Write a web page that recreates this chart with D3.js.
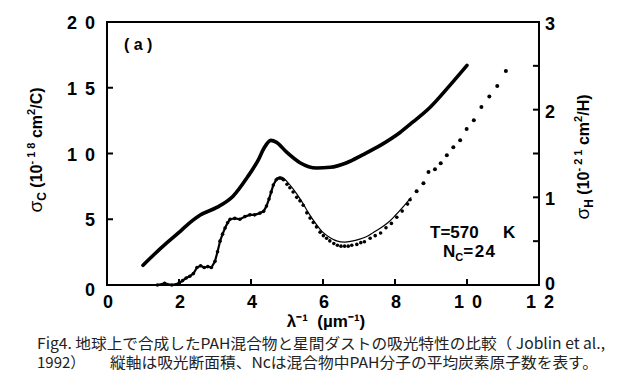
<!DOCTYPE html>
<html>
<head>
<meta charset="UTF-8">
<title>PAH absorption</title>
<script src="https://cdnjs.cloudflare.com/ajax/libs/d3/7.8.5/d3.min.js"></script>
<style>
    html, body { margin: 0; padding: 0; background: #fff; }
    svg { display: block; }
    .tick-label { font-family: "Liberation Sans", Arial, sans-serif; font-weight: bold; font-size: 18px; white-space: pre; }
    .title { font-family: "Liberation Sans", Arial, sans-serif; font-weight: bold; font-size: 16px; white-space: pre; }
    .caption { font-family: "Noto Sans CJK JP", sans-serif; font-size: 15px; fill: #222; }
</style>
</head>
<body>
<div id="chart"></div>
<script>
// sigma_C (left axis, 10^-18 cm^2/C)
var sigmaCX = [1.0, 1.3, 1.66, 2.0, 2.2, 2.58, 3.05, 3.5, 3.9, 4.2, 4.36, 4.55, 4.71, 4.99, 5.36, 5.82, 6.2, 6.66, 7.1, 7.58, 8.14, 8.5, 8.97, 9.53, 10.0];
var sigmaCY = [1.5, 2.3, 3.2, 4.0, 4.5, 5.3, 5.9, 6.75, 8.2, 9.5, 10.4, 11.0, 10.85, 10.1, 9.3, 8.9, 8.95, 9.3, 9.9, 10.6, 11.6, 12.4, 13.5, 15.2, 16.7];

// sigma_H measured (right axis, 10^-21 cm^2/H)
var sigmaHX = [1.4, 1.6, 1.8, 2.0, 2.1, 2.2, 2.3, 2.4, 2.5, 2.6, 2.7, 2.8, 2.9, 3.0, 3.07, 3.14, 3.21, 3.28, 3.35, 3.42, 3.55, 3.69, 3.83, 3.97, 4.1, 4.25, 4.35, 4.43, 4.5, 4.56, 4.62, 4.7, 4.8, 4.9,
               5.0, 5.08, 5.17, 5.27, 5.36, 5.45, 5.55, 5.64, 5.73, 5.82, 5.92, 6.01, 6.1, 6.19, 6.3, 6.4, 6.5, 6.6, 6.7, 6.8, 6.94, 7.05, 7.15, 7.31, 7.45, 7.6, 7.75, 7.9, 8.05, 8.2, 8.35, 8.42,
               8.6, 8.79, 8.93, 9.11, 9.27, 9.44, 9.62, 9.81, 9.99, 10.19, 10.4, 10.62, 10.84, 11.08];
var sigmaHY = [0.0, 0.02, 0.0, 0.02, 0.05, 0.08, 0.1, 0.13, 0.2, 0.22, 0.2, 0.21, 0.2, 0.27, 0.38, 0.5, 0.58, 0.65, 0.71, 0.75, 0.76, 0.75, 0.78, 0.8, 0.8, 0.82, 0.84, 0.9, 0.98, 1.06, 1.14, 1.2, 1.22, 1.2,
               1.15, 1.11, 1.06, 1.0, 0.96, 0.91, 0.84, 0.78, 0.73, 0.68, 0.62, 0.58, 0.55, 0.52, 0.49, 0.47, 0.46, 0.46, 0.46, 0.47, 0.48, 0.5, 0.51, 0.55, 0.58, 0.61, 0.67, 0.72, 0.79, 0.86, 0.94, 0.99,
               1.07, 1.16, 1.29, 1.32, 1.39, 1.48, 1.57, 1.65, 1.78, 1.88, 2.03, 2.15, 2.27, 2.44];

// sigma_H fit (thin line)
var fitX = [4.7, 4.85, 5.0, 5.2, 5.4, 5.6, 5.8, 6.0, 6.2, 6.4, 6.6, 6.8, 7.0, 7.2, 7.4, 7.6, 7.8, 8.0, 8.2, 8.45];
var fitY = [1.22, 1.23, 1.18, 1.08, 0.96, 0.82, 0.7, 0.6, 0.54, 0.5, 0.49, 0.5, 0.52, 0.55, 0.6, 0.65, 0.71, 0.79, 0.88, 1.0];

var xTicks = [0, 2, 4, 6, 8, 10, 12];
var yLeftTicks = [0, 5, 10, 15, 20];
var yRightTicks = [0, 1, 2, 3];
var yRightMinor = [0.5, 1.5, 2.5];

var W = 632, H = 381;
var svg = d3.select("#chart").append("svg").attr("width", W).attr("height", H);

var x = d3.scaleLinear().domain([0, 12]).range([107, 539]);
var yL = d3.scaleLinear().domain([0, 20]).range([285, 22]);
var yR = d3.scaleLinear().domain([0, 3]).range([285, 22]);

// two-digit labels are set wide, like the original typesetting
function spaced(d) { return String(d).split("").join(" "); }
function wide(d) { return d >= 10 ? 28 : null; }

// frame
svg.append("rect")
    .attr("x", x(0)).attr("y", yL(20))
    .attr("width", x(12) - x(0)).attr("height", yL(0) - yL(20))
    .attr("fill", "none").attr("stroke", "#000").attr("stroke-width", 2);

var tickLen = 6;
// bottom ticks
svg.selectAll(".xt").data(xTicks.slice(1, -1)).enter().append("line")
    .attr("x1", d => x(d)).attr("x2", d => x(d))
    .attr("y1", yL(0)).attr("y2", yL(0) - tickLen)
    .attr("stroke", "#000").attr("stroke-width", 2);
svg.selectAll(".xl").data(xTicks).enter().append("text")
    .attr("class", "tick-label")
    .attr("x", d => x(d) + 1).attr("y", 308)
    .attr("text-anchor", "middle")
    .attr("textLength", wide)
    .text(spaced);

// left ticks
svg.selectAll(".ylt").data(yLeftTicks.slice(1, -1)).enter().append("line")
    .attr("x1", x(0)).attr("x2", x(0) + tickLen)
    .attr("y1", d => yL(d)).attr("y2", d => yL(d))
    .attr("stroke", "#000").attr("stroke-width", 2);
svg.selectAll(".yll").data(yLeftTicks).enter().append("text")
    .attr("class", "tick-label")
    .attr("x", 95).attr("y", d => yL(d) + (d === 0 ? 11 : 7))
    .attr("text-anchor", "end")
    .attr("textLength", wide)
    .text(spaced);

// right ticks
svg.selectAll(".yrt").data(yRightTicks.slice(1, -1).concat(yRightMinor)).enter().append("line")
    .attr("x1", x(12)).attr("x2", x(12) - tickLen)
    .attr("y1", d => yR(d)).attr("y2", d => yR(d))
    .attr("stroke", "#000").attr("stroke-width", 2);
svg.selectAll(".yrl").data(yRightTicks).enter().append("text")
    .attr("class", "tick-label")
    .attr("x", 545).attr("y", d => yR(d) + (d === 0 ? 5 : 8))
    .attr("text-anchor", "start")
    .text(d => d);

// sigma_C curve
var cData = sigmaCX.map((v, i) => ({x: v, y: sigmaCY[i]}));
svg.append("path").datum(cData)
    .attr("fill", "none").attr("stroke", "#000").attr("stroke-width", 3.6)
    .attr("stroke-linecap", "round").attr("stroke-linejoin", "round")
    .attr("d", d3.line().curve(d3.curveMonotoneX).x(d => x(d.x)).y(d => yL(d.y)));

// sigma_H measured
var hData = sigmaHX.map((v, i) => ({x: v, y: sigmaHY[i]}));
svg.append("path").datum(hData.filter(d => d.x < 4.95))
    .attr("fill", "none").attr("stroke", "#000").attr("stroke-width", 2.2)
    .attr("stroke-linejoin", "round")
    .attr("d", d3.line().x(d => x(d.x)).y(d => yR(d.y)));
svg.selectAll(".hd").data(hData).enter().append("circle")
    .attr("cx", d => x(d.x)).attr("cy", d => yR(d.y) + (d.x > 5.5 && d.x < 8.5 ? 1.5 : 0))
    .attr("r", d => d.x > 8.5 ? 2 : 1.8)
    .attr("fill", "#000");

// sigma_H fit
var fData = fitX.map((v, i) => ({x: v, y: fitY[i]}));
svg.append("path").datum(fData)
    .attr("fill", "none").attr("stroke", "#000").attr("stroke-width", 1.2)
    .attr("d", d3.line().curve(d3.curveCatmullRom).x(d => x(d.x)).y(d => yR(d.y)));

// annotations
svg.append("text").attr("class", "title").attr("x", 124).attr("y", 50).style("font-size", "16px").text("( a )");
var t1 = svg.append("text").attr("class", "title").attr("y", 238).style("font-size", "17px");
t1.append("tspan").attr("x", 430).text("T=570");
t1.append("tspan").attr("x", 503).text("K");
var t2 = svg.append("text").attr("class", "title").attr("x", 443).attr("y", 257).style("font-size", "17px");
t2.append("tspan").text("N");
t2.append("tspan").attr("dy", 4).style("font-size", "11px").text("C");
t2.append("tspan").attr("dy", -4).style("letter-spacing", "1.5px").text("=24");

// axis titles
svg.append("text").attr("class", "title")
    .attr("x", 326).attr("y", 327).attr("text-anchor", "middle").style("font-size", "17px")
    .text("λ⁻¹  (µm⁻¹)");

function yTitle(cx, cy, sub, exp, unit) {
    var t = svg.append("text").attr("class", "title")
        .attr("transform", "translate(" + cx + "," + cy + ") rotate(-90)")
        .attr("text-anchor", "middle");
    t.append("tspan").style("font-size", "19px").style("font-weight", "normal").text("σ");
    t.append("tspan").attr("dy", 4).style("font-size", "12px").text(sub);
    t.append("tspan").attr("dy", -4).text(" (10");
    t.append("tspan").attr("dy", -7).style("font-size", "11px").text("- " + exp);
    t.append("tspan").attr("dy", 7).text(" cm");
    t.append("tspan").attr("dy", -7).style("font-size", "11px").text("2");
    t.append("tspan").attr("dy", 7).text("/" + unit + ")");
}
yTitle(42, 150, "C", "1 8", "C");
yTitle(589, 157, "H", "2 1", "H");

// caption
svg.append("text").attr("class", "caption").attr("x", 37).attr("y", 349)
    .attr("textLength", 568).attr("lengthAdjust", "spacingAndGlyphs")
    .text("Fig4. 地球上で合成したPAH混合物と星間ダストの吸光特性の比較（ Joblin et al.,");
svg.append("text").attr("class", "caption").attr("x", 37).attr("y", 368)
    .text("1992）");
svg.append("text").attr("class", "caption").attr("x", 110).attr("y", 368)
    .attr("textLength", 488).attr("lengthAdjust", "spacingAndGlyphs")
    .text("縦軸は吸光断面積、Ncは混合物中PAH分子の平均炭素原子数を表す。");
</script>
</body>
</html>
